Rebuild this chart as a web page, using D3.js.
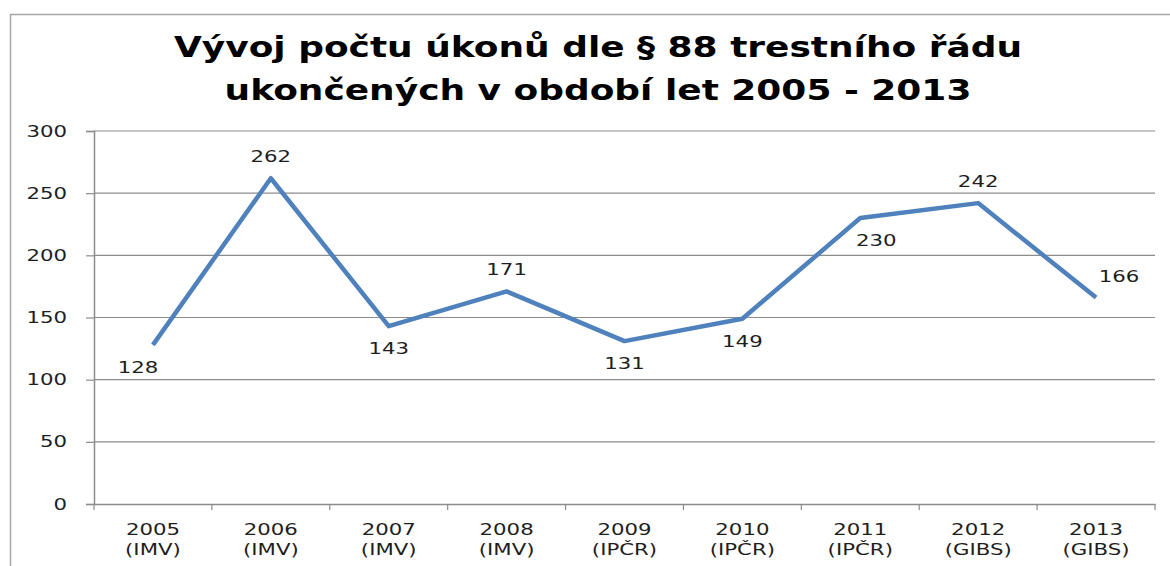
<!DOCTYPE html>
<html>
<head>
<meta charset="utf-8">
<script src="https://cdn.jsdelivr.net/npm/d3@7"></script>
<style>
  body { margin: 0; background: #fff; }
  svg { display: block; font-family: "DejaVu Sans", Verdana, sans-serif; }
</style>
</head>
<body>
<svg class="chart"></svg>
<script>
// data
const years = ["2005", "2006", "2007", "2008", "2009", "2010", "2011", "2012", "2013"];
const sources = ["(IMV)", "(IMV)", "(IMV)", "(IMV)", "(IPČR)", "(IPČR)", "(IPČR)", "(GIBS)", "(GIBS)"];
const counts = [128, 262, 143, 171, 131, 149, 230, 242, 166];
const yTicks = [0, 50, 100, 150, 200, 250, 300];
const titleLines = ["Vývoj počtu úkonů dle § 88 trestního řádu", "ukončených v období let 2005 - 2013"];

// label placement (above / below the point, small horizontal nudge)
const labelSide = ["below", "above", "below", "above", "below", "below", "below", "above", "above"];
const labelNudge = [-15, 0, 0, 0, 0, 0, 16, 0, 23];

const W = 1170, H = 566;
const margin = {top: 131, right: 15, bottom: 62, left: 94};
const stretch = 1.33;   // the reference picture is stretched sideways
const textColor = "#1e1e1e";
const gridColor = "#8c8c8c";

const svg = d3.select(".chart").attr("width", W).attr("height", H);

// places a horizontally stretched text at (px, py)
function stretchedText(sel, px, py) {
    sel.attr("x", 0).attr("y", 0)
        .attr("transform", (d, i) => "translate(" + px(d, i) + "," + py(d, i) + ") scale(" + stretch + ",1)");
}

// outer chart frame (cut off at right and bottom in the reference)
svg.append("rect")
    .attr("x", 10.5).attr("y", 14.5)
    .attr("width", W + 10).attr("height", H + 10)
    .attr("fill", "none").attr("stroke", "#a6a6a6").attr("stroke-width", 1.5);

// title
svg.append("g").attr("class", "title")
  .selectAll("text").data(titleLines).enter().append("text")
    .attr("text-anchor", "middle")
    .attr("font-size", 29).attr("font-weight", "bold").attr("fill", "#000")
    .call(stretchedText, () => 598, (d, i) => 57 + i * 43)
    .attr("transform", (d, i) => "translate(598," + (57 + i * 43) + ") scale(1.24,1)")
    .text(d => d);

const x = d3.scaleBand().domain(years).range([margin.left, W - margin.right]);
const y = d3.scaleLinear().domain([0, 300]).range([H - margin.bottom, margin.top]);

const chart = svg.append("g");

// gridlines
chart.append("g").attr("class", "grid")
  .selectAll("line").data(yTicks.filter(d => d > 0)).enter().append("line")
    .attr("x1", margin.left).attr("x2", W - margin.right)
    .attr("y1", d => y(d)).attr("y2", d => y(d))
    .attr("stroke", gridColor).attr("stroke-width", 1.2);

// y axis
const yAxis = chart.append("g")
    .attr("transform", "translate(" + margin.left + ",0)")
    .call(d3.axisLeft(y).tickValues(yTicks).tickSize(8));
yAxis.select(".domain").attr("stroke", gridColor).attr("stroke-width", 1.5);
yAxis.selectAll(".tick line").attr("stroke", gridColor).attr("stroke-width", 1.2);
yAxis.selectAll(".tick text")
    .attr("font-size", 16).attr("fill", textColor)
    .attr("font-family", "DejaVu Sans, sans-serif")
    .attr("x", 0)
    .attr("transform", "translate(-27,0) scale(" + stretch + ",1)");

// x axis
const xAxis = chart.append("g")
    .attr("transform", "translate(0," + y(0) + ")")
    .call(d3.axisBottom(x).tickSize(0).tickFormat(""));
xAxis.select(".domain").attr("stroke", gridColor).attr("stroke-width", 1.5);
const bounds = years.map(d => x(d)).concat([x(years[years.length - 1]) + x.bandwidth()]);
xAxis.selectAll("line.sep").data(bounds).enter().append("line")
    .attr("class", "sep")
    .attr("x1", d => d).attr("x2", d => d)
    .attr("y1", 0).attr("y2", 6)
    .attr("stroke", gridColor).attr("stroke-width", 1.2);

const xLabels = chart.append("g").attr("class", "x-labels");
xLabels.selectAll("text.year").data(years).enter().append("text")
    .attr("class", "year")
    .attr("text-anchor", "middle").attr("font-size", 16).attr("fill", textColor)
    .call(stretchedText, d => x(d) + x.bandwidth() / 2, () => y(0) + 31)
    .text(d => d);
xLabels.selectAll("text.src").data(sources).enter().append("text")
    .attr("class", "src")
    .attr("text-anchor", "middle").attr("font-size", 16).attr("fill", textColor)
    .call(stretchedText, (d, i) => x(years[i]) + x.bandwidth() / 2, () => y(0) + 51)
    .text(d => d);

// line
const pts = years.map((d, i) => ({year: d, value: counts[i]}));
const line = d3.line().x(d => x(d.year) + x.bandwidth() / 2).y(d => y(d.value));
chart.append("path").datum(pts)
    .attr("d", line)
    .attr("fill", "none").attr("stroke", "#4f81bd")
    .attr("stroke-width", 4.5).attr("stroke-linejoin", "round");

// data labels
chart.append("g").attr("class", "labels")
  .selectAll("text").data(pts).enter().append("text")
    .attr("text-anchor", "middle").attr("font-size", 16).attr("fill", textColor)
    .call(stretchedText,
        (d, i) => x(d.year) + x.bandwidth() / 2 + labelNudge[i],
        (d, i) => y(d.value) + (labelSide[i] === "above" ? -16 : 28))
    .text(d => d.value);
</script>
</body>
</html>
